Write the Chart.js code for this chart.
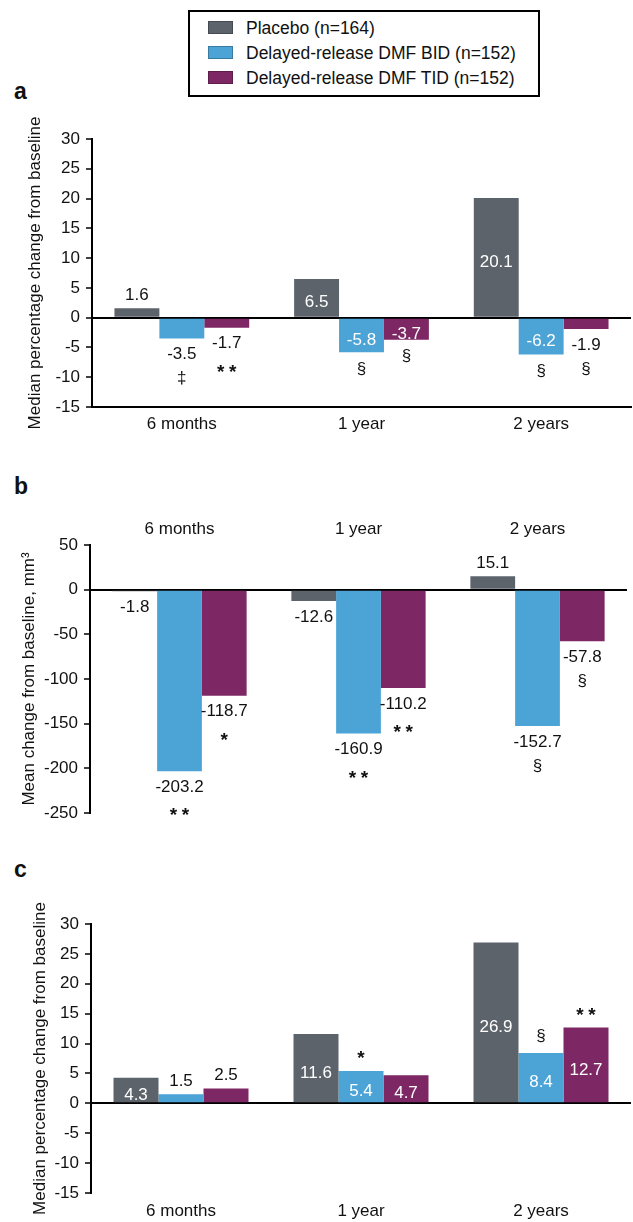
<!DOCTYPE html>
<html lang="en">
<head>
  <meta charset="utf-8" />
  <title>Delayed-release DMF</title>
  <script src="https://cdn.jsdelivr.net/npm/chart.js"></script>
  <style>
    body { margin: 0; width: 633px; height: 1222px; position: relative; background: #fff;
      font-family: "Liberation Sans", Arial, sans-serif; color: #111; overflow: hidden; }
    canvas { position: absolute; left: 0; }
    #legend { position: absolute; left: 188px; top: 10px; width: 348px; height: 83px;
      border: 2px solid #000; }
    .item { position: absolute; left: 18px; font-size: 17.5px; line-height: 20px; white-space: nowrap; }
    .item span { display: inline-block; width: 23px; height: 11px; margin-right: 13px;
      vertical-align: 0px; border: 1px solid rgba(0,0,0,0.25); }
    .panel { position: absolute; left: 14px; font-weight: bold; font-size: 23px; }
  </style>
</head>
<body>
  <div id="legend"></div>
  <div class="panel" style="top:78px">a</div>
  <div class="panel" style="top:473px">b</div>
  <div class="panel" style="top:856px">c</div>
  <canvas id="chartA" width="633" height="340" style="top:100px"></canvas>
  <canvas id="chartB" width="633" height="390" style="top:440px"></canvas>
  <canvas id="chartC" width="633" height="392" style="top:830px"></canvas>

  <script>
    const categories = ['6 months', '1 year', '2 years'];
    const seriesNames = ['Placebo (n=164)', 'Delayed-release DMF BID (n=152)', 'Delayed-release DMF TID (n=152)'];
    const seriesColors = ['#5c636b', '#4ca3d6', '#7d2864'];

    // panel a - median % change
    const aPlacebo = [1.6, 6.5, 20.1];
    const aBid = [-3.5, -5.8, -6.2];
    const aTid = [-1.7, -3.7, -1.9];
    const aSigBid = ['\u2021', '\u00a7', '\u00a7'];
    const aSigTid = ['**', '\u00a7', '\u00a7'];
    const aTicks = [-15, -10, -5, 0, 5, 10, 15, 20, 25, 30];

    // panel b - mean change, mm3
    const bPlacebo = [-1.8, -12.6, 15.1];
    const bBid = [-203.2, -160.9, -152.7];
    const bTid = [-118.7, -110.2, -57.8];
    const bSigBid = ['**', '**', '\u00a7'];
    const bSigTid = ['*', '**', '\u00a7'];
    const bTicks = [-250, -200, -150, -100, -50, 0, 50];

    // panel c - median % change
    const cPlacebo = [4.3, 11.6, 26.9];
    const cBid = [1.5, 5.4, 8.4];
    const cTid = [2.5, 4.7, 12.7];
    const cSigBid = ['', '*', '\u00a7'];
    const cSigTid = ['', '', '**'];
    const cTicks = [-15, -10, -5, 0, 5, 10, 15, 20, 25, 30];

    const FONT = '"Liberation Sans", Arial, sans-serif';
    const INK = '#111';

    // legend
    const legend = document.getElementById('legend');
    seriesNames.forEach((name, i) => {
      const d = document.createElement('div');
      d.className = 'item';
      d.style.top = (6 + i * 25) + 'px';
      d.innerHTML = `<span style="background:${seriesColors[i]}"></span>${name}`;
      legend.appendChild(d);
    });

    function drawSig(ctx, sig, x, y) {
      if (sig.indexOf('*') >= 0) {
        // asterisks are bold and spaced out in the original
        ctx.font = 'bold 19px ' + FONT;
        const n = sig.length;
        for (let k = 0; k < n; k++) {
          ctx.fillText('*', x + (k - (n - 1) / 2) * 12, y + 5);
        }
      } else {
        ctx.font = '17px ' + FONT;
        ctx.fillText(sig, x, y);
      }
    }

    // value labels + significance marks
    const valueLabels = {
      id: 'valueLabels',
      afterDatasetsDraw(chart, args, opts) {
        const ctx = chart.ctx;
        ctx.save();
        ctx.textAlign = 'center';
        ctx.textBaseline = 'middle';
        chart.data.datasets.forEach((ds, i) => {
          chart.getDatasetMeta(i).data.forEach((bar, j) => {
            const v = ds.data[j];
            const inside = opts.place[i][j] === 'in';
            const dir = v < 0 ? 1 : -1;
            let y;
            ctx.font = '17px ' + FONT;
            if (inside) {
              y = (bar.y + bar.base) / 2 + 5;
              ctx.fillStyle = '#fff';
            } else {
              y = bar.y + dir * (v < 0 ? 16 : 13);
              ctx.fillStyle = INK;
            }
            ctx.fillText(v.toFixed(1), bar.x, y);
            const sig = opts.sig[i] ? opts.sig[i][j] : '';
            if (sig) {
              const sy = inside ? bar.y + dir * 17 : y + dir * 24;
              ctx.fillStyle = INK;
              drawSig(ctx, sig, bar.x, sy);
            }
          });
        });
        ctx.restore();
      }
    };

    function makeChart(id, series, ticks, cfg) {
      const datasets = series.map((data, i) => ({
        label: seriesNames[i],
        data: data,
        backgroundColor: seriesColors[i],
        borderWidth: 0,
        categoryPercentage: 0.75,
        barPercentage: 1.0
      }));
      return new Chart(document.getElementById(id), {
        type: 'bar',
        data: { labels: categories, datasets: datasets },
        plugins: [valueLabels],
        options: {
          responsive: false,
          animation: false,
          devicePixelRatio: 1,
          layout: { padding: cfg.padding },
          plugins: {
            legend: { display: false },
            tooltip: { enabled: false },
            valueLabels: { place: cfg.place, sig: cfg.sig }
          },
          scales: {
            x: {
              position: cfg.xPos,
              grid: { display: false, drawTicks: false },
              border: { display: cfg.xBorder, color: '#000', width: 2 },
              ticks: { color: INK, font: { family: FONT, size: 17 }, padding: cfg.xPad },
              afterFit: s => { s.height = cfg.xHeight; }
            },
            y: {
              min: ticks[0],
              max: ticks[ticks.length - 1],
              ticks: { stepSize: ticks[1] - ticks[0], color: INK, font: { family: FONT, size: 17 }, padding: 6 },
              grid: {
                color: c => (c.tick && c.tick.value === 0) ? '#000' : 'rgba(0,0,0,0)',
                lineWidth: 2,
                tickLength: 6,
                tickColor: '#000',
                tickWidth: 1.5
              },
              border: { display: true, color: '#000', width: 2 },
              title: {
                display: true,
                text: cfg.yTitle,
                color: INK,
                font: { family: FONT, size: 17 },
                padding: { top: cfg.titlePad, bottom: 0 }
              },
              afterFit: s => { s.width = cfg.yWidth; }
            }
          }
        }
      });
    }

    makeChart('chartA', [aPlacebo, aBid, aTid], aTicks, {
      padding: { top: 39, right: 2, left: 0, bottom: 0 },
      xPos: 'bottom', xBorder: true, xPad: 7, xHeight: 33,
      yWidth: 92, titlePad: 25,
      yTitle: 'Median percentage change from baseline',
      place: [['out', 'in', 'in'], ['out', 'in', 'in'], ['out', 'in', 'out']],
      sig: [null, aSigBid, aSigTid]
    });

    makeChart('chartB', [bPlacebo, bBid, bTid], bTicks, {
      padding: { top: 0, right: 6, left: 0, bottom: 17 },
      xPos: 'top', xBorder: false, xPad: 5, xHeight: 105,
      yWidth: 90, titlePad: 19,
      yTitle: 'Mean change from baseline, mm\u00b3',
      place: [['out', 'out', 'out'], ['out', 'out', 'out'], ['out', 'out', 'out']],
      sig: [null, bSigBid, bSigTid]
    });

    makeChart('chartC', [cPlacebo, cBid, cTid], cTicks, {
      padding: { top: 94, right: 2, left: 0, bottom: 0 },
      xPos: 'bottom', xBorder: false, xPad: 8, xHeight: 29,
      yWidth: 91, titlePad: 30,
      yTitle: 'Median percentage change from baseline',
      place: [['in', 'in', 'in'], ['out', 'in', 'in'], ['out', 'in', 'in']],
      sig: [null, cSigBid, cSigTid]
    });
  </script>
</body>
</html>
